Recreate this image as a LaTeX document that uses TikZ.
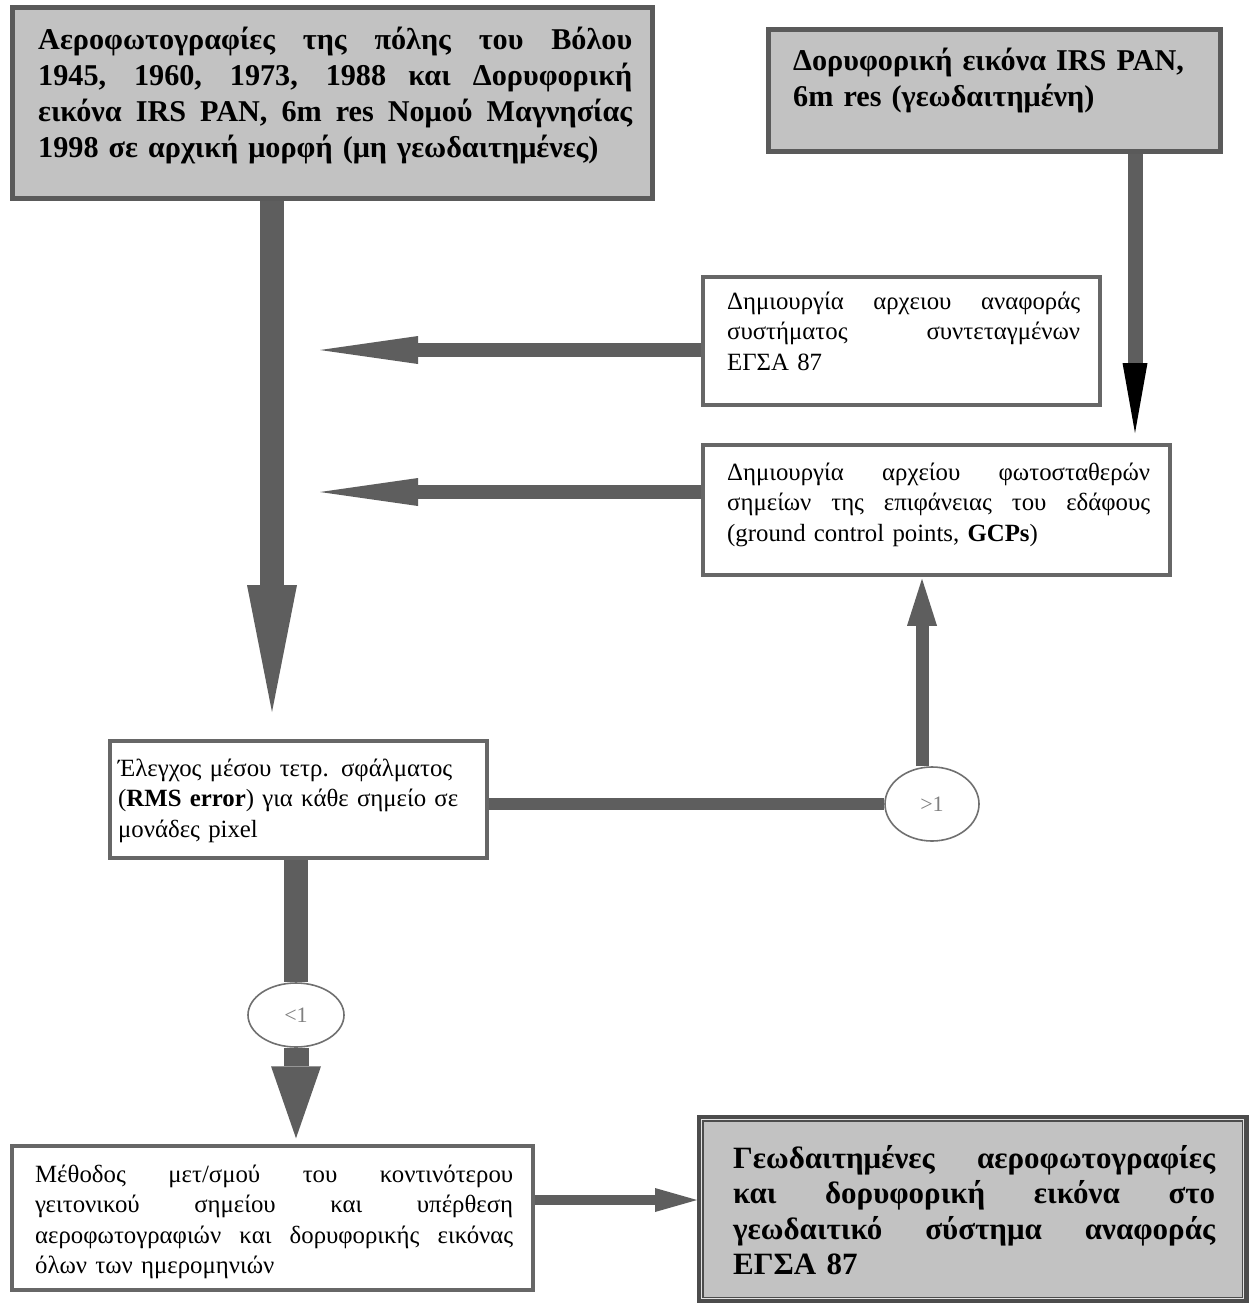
\documentclass[tikz,border=0pt]{standalone}
\usepackage{fontspec}
\setmainfont{Liberation Serif}
\usetikzlibrary{shapes.geometric,arrows.meta,backgrounds}
\definecolor{arr}{HTML}{5E5E5E}
\definecolor{boxfill}{HTML}{C2C2C2}
\definecolor{edge}{HTML}{5A5A5A}
\definecolor{wedge}{HTML}{676767}
\definecolor{ellc}{HTML}{707070}
\setlength{\parindent}{0pt}
\newcommand{\jl}[2]{\leavevmode\hbox to #1pt{\spaceskip=0pt plus 1fil\relax #2}}
\begin{document}
\begin{tikzpicture}[x=1pt,y=-1pt,
  gbox/.style={draw=edge, line width=5pt, fill=boxfill, rectangle, inner sep=0pt},
  wbox/.style={draw=wedge, line width=3.5pt, fill=white, rectangle, inner sep=0pt},
  txt/.style={inner sep=0pt, anchor=base west, align=left},
  bigtxt/.style={txt, font=\fontsize{30.2}{35.8}\selectfont\bfseries},
  smalltxt/.style={txt, font=\fontsize{24.8}{30.5}\selectfont},
  ell/.style={ellipse, draw=ellc, line width=1.6pt, fill=white, inner sep=0pt,
    text=gray, font=\fontsize{22}{24}\selectfont},
  flow/.style={draw=arr, line width=#1}
]
\useasboundingbox (0,0) rectangle (1251,1303);

% boxes
\node[gbox, minimum width=640pt, minimum height=190pt] (tl) at (332,103) {};
\node[gbox, minimum width=452pt, minimum height=121pt] (tr) at (994,90.5) {};
\node[wbox, minimum width=397pt, minimum height=128pt] (a) at (901.5,341) {};
\node[wbox, minimum width=467pt, minimum height=130pt] (b) at (936.5,510) {};
\node[wbox, minimum width=377pt, minimum height=117pt] (c) at (298.5,799.5) {};
\node[wbox, minimum width=521pt, minimum height=144pt] (d) at (272.5,1218) {};
\node[draw=edge!85!black, line width=7pt, fill=boxfill, rectangle, inner sep=0pt,
  minimum width=545pt, minimum height=182pt] (e) at (972.5,1209) {};
\draw[white!78!gray, line width=1.5pt] ([shift={(5,5)}]e.north west) rectangle ([shift={(-5,-5)}]e.south east);

\node[ell, minimum width=94pt, minimum height=74pt] (g) at (932,804) {>1};
\node[ell, minimum width=96pt, minimum height=64pt] (l) at (296,1015) {<1};

% texts
\node[bigtxt, text width=600pt] (tlt) at (38,50) {%
\jl{594}{Αεροφωτογραφίες της πόλης του Βόλου}\\
\jl{594}{1945, 1960, 1973, 1988 και Δορυφορική}\\
\jl{594}{εικόνα IRS PAN, 6m res Νομού Μαγνησίας}\\
1998 σε αρχική μορφή (μη γεωδαιτημένες)};

\node[bigtxt, text width=420pt] (trt) at (793,71) {%
Δορυφορική εικόνα IRS PAN,\\
6m res (γεωδαιτημένη)};

\node[smalltxt, text width=360pt] (at) at (727,309) {%
\jl{353}{Δημιουργία αρχειου αναφοράς}\\
\jl{353}{συστήματος συντεταγμένων}\\
ΕΓΣΑ 87};

\node[smalltxt, text width=430pt] (bt) at (727,480) {%
\jl{423}{Δημιουργία αρχείου φωτοσταθερών}\\
\jl{423}{σημείων της επιφάνειας του εδάφους}\\
(ground control points, \textbf{GCPs})};

\node[smalltxt, text width=360pt] (ct) at (118,776) {%
Έλεγχος μέσου τετρ. σφάλματος\\
(\textbf{RMS error}) για κάθε σημείο σε\\
μονάδες pixel};

\node[smalltxt, text width=485pt] (dt) at (35,1182) {%
\jl{478}{Μέθοδος μετ/σμού του κοντινότερου}\\
\jl{478}{γειτονικού σημείου και υπέρθεση}\\
\jl{478}{αεροφωτογραφιών και δορυφορικής εικόνας}\\
όλων των ημερομηνιών};

\node[txt, font=\fontsize{31}{35.5}\selectfont\bfseries, text width=490pt] (et) at (733,1168) {%
\jl{482}{Γεωδαιτημένες αεροφωτογραφίες}\\
\jl{482}{και δορυφορική εικόνα στο}\\
\jl{482}{γεωδαιτικό σύστημα αναφοράς}\\
ΕΓΣΑ 87};

% connector end points
\coordinate (c1) at (272,712);
\coordinate (c2) at (1135,433);
\coordinate (c3) at (320,350);
\coordinate (c4) at (320,492);
\coordinate (c9) at (697,1200);

\begin{scope}[on background layer]
\fill[white] (0,0) rectangle (1251,1303);
\draw[flow=24pt, -{Triangle[length=127pt,width=50pt,line width=0pt]}] (tl.south -| c1) -- (c1);
\draw[flow=15pt, -{Triangle[length=70pt,width=25pt,line width=0pt,fill=black,color=black]}] (tr.south -| c2) -- (c2);
\draw[flow=14pt, -{Triangle[length=98pt,width=28pt,line width=0pt]}] (c3 -| a.west) -- (c3);
\draw[flow=14pt, -{Triangle[length=98pt,width=28pt,line width=0pt]}] (c4 -| b.west) -- (c4);
\draw[flow=12pt] (c.east |- g.west) -- (g.west);
\draw[flow=13pt, -{Triangle[length=47pt,width=30pt,line width=0pt]}, shorten >=2pt] ([xshift=-10pt]g.north) -- ([xshift=-10pt]g.north |- b.south);
\draw[flow=24pt] (c.south -| l.north) -- (l.north);
\draw[flow=25pt, -{Triangle[length=72pt,width=50pt,line width=0pt]}, shorten >=6pt] (l.south) -- (l.south |- d.north);
\draw[flow=10pt, -{Triangle[length=42pt,width=24pt,line width=0pt]}] (d.east |- c9) -- (c9);
\end{scope}
\end{tikzpicture}
\end{document}
